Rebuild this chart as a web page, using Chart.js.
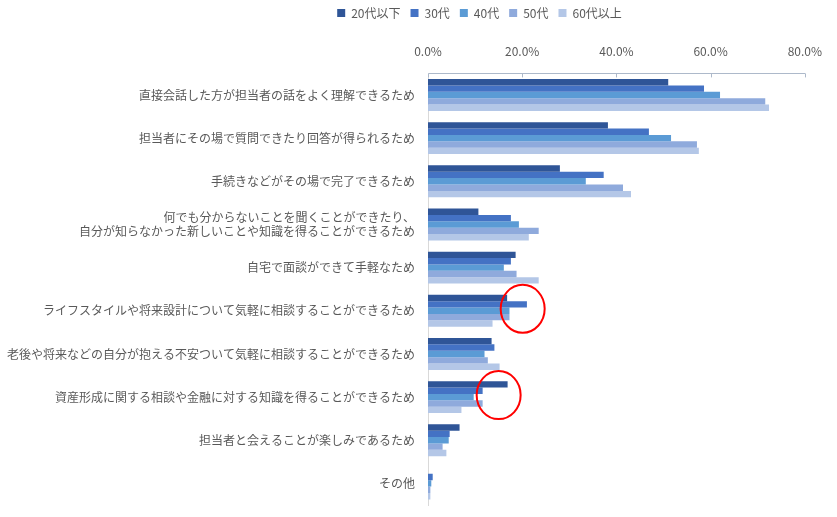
<!DOCTYPE html>
<html>
<head>
<meta charset="utf-8">
<script src="https://cdn.jsdelivr.net/npm/chart.js@4"></script>
<style>
  html, body { margin: 0; padding: 0; background: #fff; }
  #wrap { width: 837px; height: 517px; }
</style>
</head>
<body>
<div id="wrap"><canvas id="barChart"></canvas></div>
<script>
// Kategorien (Antworten)
let categories = [
  '直接会話した方が担当者の話をよく理解できるため',
  '担当者にその場で質問できたり回答が得られるため',
  '手続きなどがその場で完了できるため',
  ['何でも分からないことを聞くことができたり、', '自分が知らなかった新しいことや知識を得ることができるため'],
  '自宅で面談ができて手軽なため',
  'ライフスタイルや将来設計について気軽に相談することができるため',
  '老後や将来などの自分が抱える不安ついて気軽に相談することができるため',
  '資産形成に関する相談や金融に対する知識を得ることができるため',
  '担当者と会えることが楽しみであるため',
  'その他'
];

// Werte je Altersgruppe (%)
let age20 = [51.0, 38.2, 28.0, 10.7, 18.6, 16.8, 13.5, 16.9, 6.7, 0.0];
let age30 = [58.6, 46.9, 37.3, 17.6, 17.6, 21.0, 14.1, 11.6, 4.6, 1.0];
let age40 = [62.0, 51.6, 33.5, 19.3, 16.1, 17.3, 12.0, 9.7, 4.4, 0.7];
let age50 = [71.6, 57.1, 41.4, 23.5, 18.8, 17.3, 12.7, 11.6, 3.1, 0.5];
let age60 = [72.4, 57.5, 43.1, 21.4, 23.5, 13.7, 15.2, 7.1, 3.9, 0.5];

let seriesNames = ['20代以下', '30代', '40代', '50代', '60代以上'];
let xTicks = [0, 20, 40, 60, 80];

// rote Markierungen: Kategorie-Index und Wert (%)
let circleMarks = [
  { category: 5, value: 20.1 },
  { category: 7, value: 15.0 }
];

let colors = ['#2F5597', '#4472C4', '#5B9BD5', '#8FAADC', '#B4C7E7'];
let textColor = '#595959';
let fontFamily = '"Noto Sans CJK JP", "Noto Sans", sans-serif';

// Legende nach rechts verschieben (wie im Original)
let legendShift = {
  id: 'legendShift',
  afterLayout(chart) {
    chart.legend.left += 69;
    chart.legend.right += 69;
  }
};

// kurze Teilstriche unter der oberen Achse + rote Kreise
let extras = {
  id: 'extras',
  afterDraw(chart) {
    let ctx = chart.ctx, x = chart.scales.x, y = chart.scales.y;
    ctx.save();
    ctx.strokeStyle = '#ADB9CA';
    ctx.lineWidth = 1;
    xTicks.forEach(v => {
      let px = Math.round(x.getPixelForValue(v)) + 0.5;
      ctx.beginPath();
      ctx.moveTo(px, chart.chartArea.top);
      ctx.lineTo(px, chart.chartArea.top + 4);
      ctx.stroke();
    });
    ctx.strokeStyle = '#FF0000';
    ctx.lineWidth = 2;
    circleMarks.forEach(m => {
      let cx = x.getPixelForValue(m.value);
      let cy = y.getPixelForValue(m.category) - 2;
      ctx.beginPath();
      ctx.ellipse(cx, cy, 22, 24, 0, 0, Math.PI * 2);
      ctx.stroke();
    });
    ctx.restore();
  }
};

let config = {
  type: 'bar',
  data: {
    labels: categories,
    datasets: [age20, age30, age40, age50, age60].map((d, i) => ({
      label: seriesNames[i],
      data: d,
      backgroundColor: colors[i],
      borderWidth: 0,
      barPercentage: 1,
      categoryPercentage: 0.74
    }))
  },
  options: {
    indexAxis: 'y',
    responsive: true,
    maintainAspectRatio: false,
    animation: false,
    layout: { padding: { top: -3, right: 16, bottom: 12, left: 0 } },
    scales: {
      x: {
        position: 'top',
        min: 0,
        max: 80,
        afterBuildTicks: axis => { axis.ticks = xTicks.map(v => ({ value: v })); },
        ticks: {
          color: textColor,
          padding: 15,
          font: { family: fontFamily, size: 12 },
          callback: v => v.toFixed(1) + '%'
        },
        grid: { display: false, drawTicks: false },
        border: { display: true, color: '#ADB9CA', width: 1 }
      },
      y: {
        afterFit: scale => {
          scale.width = 428;
          scale.paddingTop = 0;
          scale.paddingBottom = 0;
        },
        ticks: {
          color: textColor,
          padding: 13,
          font: { family: fontFamily, size: 12 }
        },
        grid: { display: false, drawTicks: false },
        border: { display: true, color: '#D9D9D9', width: 1 }
      }
    },
    plugins: {
      legend: {
        position: 'top',
        labels: {
          color: textColor,
          boxWidth: 8,
          boxHeight: 8,
          padding: 10,
          font: { family: fontFamily, size: 12 }
        }
      },
      tooltip: { enabled: false }
    }
  },
  plugins: [legendShift, extras]
};

let ctx = document.getElementById('barChart').getContext('2d');
let barChart = new Chart(ctx, config);
</script>
</body>
</html>
